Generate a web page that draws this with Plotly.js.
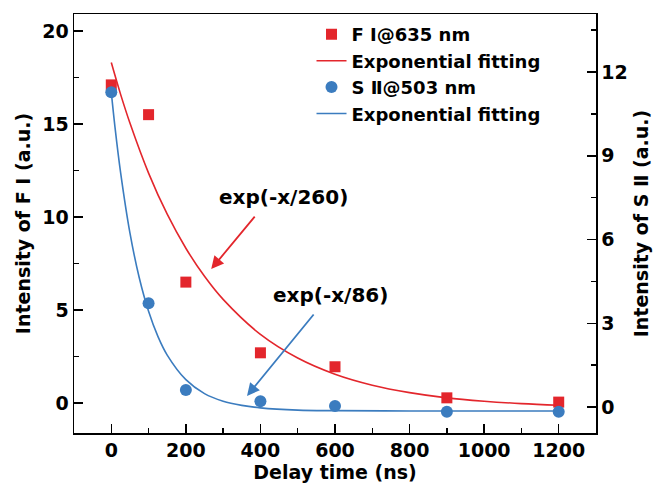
<!DOCTYPE html>
<html>
<head>
<meta charset="utf-8">
<script src="https://cdn.plot.ly/plotly-3.0.1.min.js"></script>
<style>html,body{margin:0;padding:0;background:#fff;}</style>
</head>
<body>
<div id="chart" style="width:654px;height:486px;"></div>
<script>
// Measured data
const delayTime = [0, 100, 200, 400, 600, 900, 1200];
const intensityFI = [17.1, 15.5, 6.5, 2.7, 1.95, 0.28, 0.05];
const intensitySII = [11.28, 3.72, 0.61, 0.21, 0.04, -0.17, -0.17];

// Fitted curves
const fitFIx = [0, 25, 50, 100, 150, 200, 250, 300, 400, 500, 600, 700, 800, 900, 1000, 1100, 1200];
const fitFIy = [18.3, 16.59, 15.05, 12.36, 10.15, 8.32, 6.81, 5.57, 3.69, 2.42, 1.55, 0.96, 0.56, 0.28, 0.10, -0.03, -0.12];
const fitSIIx = [0, 10, 25, 50, 75, 100, 125, 150, 200, 250, 300, 350, 400, 500, 600, 800, 1000, 1200];
const fitSIIy = [11.28, 10.02, 8.40, 6.24, 4.63, 3.43, 2.53, 1.86, 0.98, 0.48, 0.21, 0.06, -0.03, -0.11, -0.13, -0.14, -0.14, -0.14];

const legendNames = ['F \u2160@635 nm', 'Exponential fitting', 'S \u2161@503 nm', 'Exponential fitting'];
const annotationTexts = ['exp(-x/260)', 'exp(-x/86)'];

const RED = '#e3262c';
const BLUE = '#3b7cbf';
const FONT = 'DejaVu Sans, Liberation Sans, Arial, sans-serif';

const traces = [
  {x: delayTime, y: intensityFI, name: legendNames[0], type: 'scatter', mode: 'markers',
   marker: {symbol: 'square', size: 11, color: RED}, yaxis: 'y'},
  {x: fitFIx, y: fitFIy, name: legendNames[1], type: 'scatter', mode: 'lines',
   line: {color: RED, width: 1.6, shape: 'spline'}, yaxis: 'y'},
  {x: delayTime, y: intensitySII, name: legendNames[2], type: 'scatter', mode: 'markers',
   marker: {symbol: 'circle', size: 12, color: BLUE}, yaxis: 'y2'},
  {x: fitSIIx, y: fitSIIy, name: legendNames[3], type: 'scatter', mode: 'lines',
   line: {color: BLUE, width: 1.6, shape: 'spline'}, yaxis: 'y2'}
];

const tickFont = {family: FONT, size: 19, color: '#000', weight: 'bold'};
const titleFont = {family: FONT, size: 19, color: '#000', weight: 'bold'};

function axisTicks(extra) {
  return Object.assign({
    ticks: 'inside', ticklen: 9, tickwidth: 1.5, tickcolor: '#000',
    showline: true, linecolor: '#000', linewidth: 1.5,
    showgrid: false, zeroline: false, tickfont: tickFont
  }, extra);
}

const layout = {
  width: 654, height: 486,
  margin: {l: 74, r: 58, t: 14, b: 53},
  paper_bgcolor: '#fff', plot_bgcolor: '#fff',
  showlegend: true,
  legend: {x: 0.455, y: 0.995, xanchor: 'left', yanchor: 'top',
           bgcolor: 'rgba(0,0,0,0)', font: {family: FONT, size: 18, color: '#000', weight: 'bold'},
           tracegroupgap: 0},
  xaxis: axisTicks({range: [-100, 1300], tickvals: [0, 200, 400, 600, 800, 1000, 1200],
          minor: {dtick: 100, tick0: 0, ticks: 'inside', ticklen: 5, tickwidth: 1.5, tickcolor: '#000'},
          mirror: true,
          title: {text: 'Delay time (ns)', font: titleFont, standoff: 1}}),
  yaxis: axisTicks({range: [-1.61, 20.91], tickvals: [0, 5, 10, 15, 20],
          minor: {dtick: 2.5, tick0: 0, ticks: 'inside', ticklen: 5, tickwidth: 1.5, tickcolor: '#000'},
          title: {text: 'Intensity of F \u2160 (a.u.)', font: titleFont, standoff: 6}}),
  yaxis2: axisTicks({range: [-0.93, 14.08], tickvals: [0, 3, 6, 9, 12], overlaying: 'y', side: 'right',
          minor: {dtick: 1.5, tick0: 0, ticks: 'inside', ticklen: 5, tickwidth: 1.5, tickcolor: '#000'},
          title: {text: 'Intensity of S \u2161 (a.u.)', font: titleFont, standoff: 8}}),
  annotations: [
    {x: 461, y: 11.08, xref: 'x', yref: 'y', text: annotationTexts[0], showarrow: false,
     font: {family: FONT, size: 20, color: '#000', weight: 'bold'}},
    {x: 268, y: 7.2, ax: 388, ay: 10.1, xref: 'x', yref: 'y', axref: 'x', ayref: 'y',
     text: '', showarrow: true, arrowhead: 2, arrowsize: 1.4, arrowwidth: 1.8, arrowcolor: RED},
    {x: 587, y: 5.81, xref: 'x', yref: 'y', text: annotationTexts[1], showarrow: false,
     font: {family: FONT, size: 20, color: '#000', weight: 'bold'}},
    {x: 364, y: 0.38, ax: 546, ay: 4.84, xref: 'x', yref: 'y', axref: 'x', ayref: 'y',
     text: '', showarrow: true, arrowhead: 2, arrowsize: 1.4, arrowwidth: 1.8, arrowcolor: BLUE}
  ]
};

Plotly.newPlot('chart', traces, layout, {displayModeBar: false, staticPlot: true});
</script>
</body>
</html>
